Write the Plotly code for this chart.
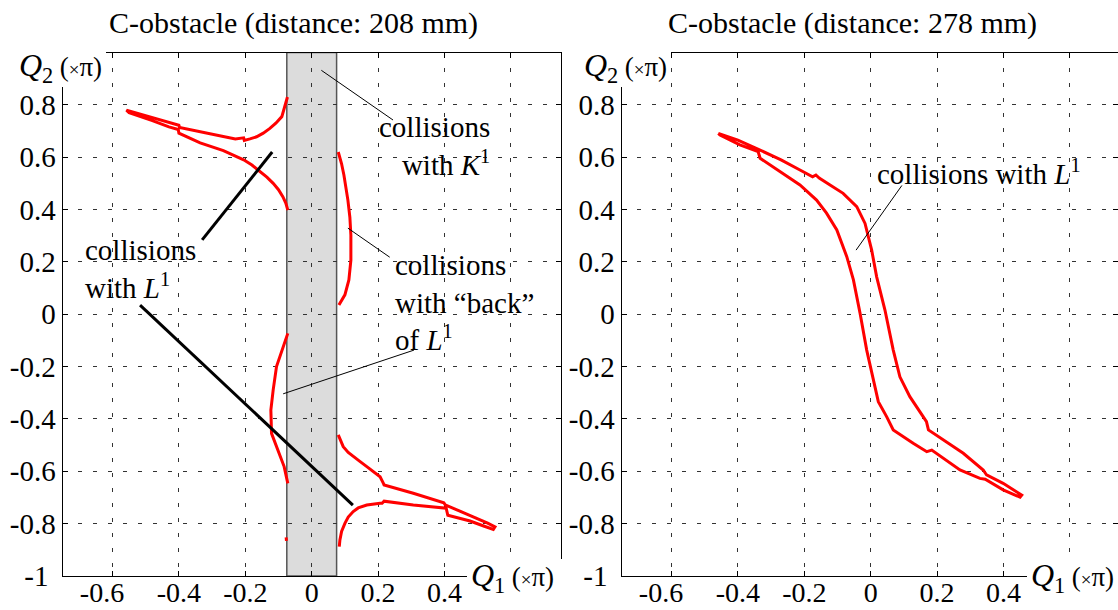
import plotly.graph_objects as go

FONT = "Liberation Serif"

# ---------------- data (units of pi) ----------------
# Left panel (distance 208 mm)
# upper-left branch: from obstacle edge, out to the tip and back
left_upper_x = [-0.073, -0.080, -0.090, -0.108, -0.126, -0.146, -0.166, -0.186, -0.203, -0.205,
                -0.230, -0.270, -0.336, -0.398, -0.400, -0.450, -0.500, -0.540, -0.558,
                -0.550, -0.520, -0.480, -0.430, -0.402, -0.400, -0.336, -0.266, -0.205,
                -0.180, -0.156, -0.135, -0.116, -0.100, -0.087, -0.078, -0.072]
left_upper_y = [0.830, 0.795, 0.755, 0.730, 0.710, 0.692, 0.678, 0.670, 0.664, 0.674,
                0.670, 0.680, 0.698, 0.714, 0.722, 0.740, 0.758, 0.772, 0.780,
                0.770, 0.758, 0.740, 0.716, 0.706, 0.692, 0.655, 0.625, 0.590,
                0.570, 0.545, 0.524, 0.500, 0.476, 0.449, 0.425, 0.398]

# right-of-obstacle upper bulge
left_right_x = [0.080, 0.090, 0.097, 0.104, 0.109, 0.115, 0.118, 0.118, 0.115, 0.112, 0.100, 0.090, 0.082]
left_right_y = [0.620, 0.575, 0.532, 0.480, 0.436, 0.370, 0.302, 0.207, 0.160, 0.131, 0.074, 0.050, 0.035]

# left-of-obstacle lower bulge ("back" of L1)
left_back_x = [-0.072, -0.086, -0.106, -0.116, -0.123, -0.121, -0.101, -0.083, -0.072]
left_back_y = [-0.073, -0.124, -0.200, -0.289, -0.366, -0.455, -0.519, -0.582, -0.646]

# small isolated fragment
left_dot_x = [-0.077, -0.076]
left_dot_y = [-0.852, -0.866]

# lower-right branch
left_lower_x = [0.080, 0.095, 0.110, 0.125, 0.145, 0.166, 0.186, 0.206, 0.216, 0.218,
                0.306, 0.398, 0.402, 0.477, 0.530, 0.552,
                0.547, 0.520, 0.477, 0.410, 0.405, 0.306, 0.218, 0.212, 0.206, 0.166,
                0.140, 0.125, 0.110, 0.100, 0.090, 0.085, 0.083]
left_lower_y = [-0.461, -0.506, -0.528, -0.544, -0.562, -0.582, -0.602, -0.621, -0.646, -0.652,
                -0.684, -0.720, -0.728, -0.768, -0.798, -0.812,
                -0.822, -0.810, -0.790, -0.768, -0.741, -0.729, -0.714, -0.722, -0.722, -0.729,
                -0.740, -0.754, -0.775, -0.799, -0.830, -0.862, -0.888]

# Right panel (distance 278 mm): one closed loop
right_loop_x = [-0.459, -0.400, -0.333, -0.270, -0.213, -0.175, -0.165, -0.155, -0.120, -0.083,
                -0.042, -0.017, 0.003, 0.018, 0.043, 0.068, 0.088, 0.118, 0.158, 0.168, 0.174,
                0.219, 0.279, 0.339, 0.349, 0.399, 0.455,
                0.450, 0.399, 0.345, 0.329, 0.269, 0.184, 0.169, 0.128, 0.068, 0.048, 0.023,
                0.013, -0.002, -0.012, -0.032, -0.052, -0.072, -0.102, -0.133, -0.163, -0.213,
                -0.273, -0.333, -0.339, -0.394, -0.454, -0.459]
right_loop_y = [0.691, 0.665, 0.627, 0.590, 0.551, 0.525, 0.532, 0.520, 0.492, 0.462,
                0.411, 0.347, 0.245, 0.143, 0.016, -0.137, -0.239, -0.315, -0.391, -0.410, -0.442,
                -0.480, -0.531, -0.595, -0.614, -0.646, -0.691,
                -0.699, -0.671, -0.630, -0.627, -0.595, -0.519, -0.525, -0.493, -0.442, -0.391, -0.334,
                -0.277, -0.187, -0.137, 0.004, 0.131, 0.220, 0.322, 0.386, 0.436, 0.494,
                0.545, 0.596, 0.621, 0.647, 0.685, 0.691]

# obstacle band (left panel)
obstacle_q1 = [-0.075, 0.075]

# ticks
x_tick_vals = [-0.6, -0.4, -0.2, 0, 0.2, 0.4, 0.6]
x_tick_text = ["-0.6\u2002\u00a0", "-0.4", "-0.2", "0", "0.2", "0.4", " "]
y_tick_vals = [-1, -0.8, -0.6, -0.4, -0.2, 0, 0.2, 0.4, 0.6, 0.8]
y_tick_text = ["-1\u00a0", "-0.8", "-0.6", "-0.4", "-0.2", "0", "0.2", "0.4", "0.6", "0.8"]

titles = ["C-obstacle (distance: 208 mm)", "C-obstacle (distance: 278 mm)"]

# ---------------- figure ----------------
W, H = 1118, 610
RED = "#ff0000"
LW = 3

fig = go.Figure()
for xs, ys in [(left_upper_x, left_upper_y), (left_right_x, left_right_y),
               (left_back_x, left_back_y), (left_dot_x, left_dot_y),
               (left_lower_x, left_lower_y)]:
    fig.add_trace(go.Scatter(x=xs, y=ys, mode="lines", line=dict(color=RED, width=LW),
                             xaxis="x", yaxis="y", showlegend=False, hoverinfo="skip"))
fig.add_trace(go.Scatter(x=right_loop_x, y=right_loop_y, mode="lines",
                         line=dict(color=RED, width=LW),
                         xaxis="x2", yaxis="y2", showlegend=False, hoverinfo="skip"))

common = dict(showline=True, linecolor="black", linewidth=1.3, mirror="ticks",
              ticks="inside", ticklen=5, tickwidth=1, tickcolor="black",
              showgrid=True, gridcolor="#333333", gridwidth=1, griddash="4px,11px",
              zeroline=False, tickmode="array", fixedrange=True, automargin=False)
xtickfont = dict(family=FONT, size=28, color="black")
ytickfont = dict(family=FONT, size=29, color="black")

ydom = [1 - 576 / H, 1 - 52.5 / H]
fig.update_layout(
    width=W, height=H, autosize=False,
    margin=dict(l=0, r=0, t=0, b=0, pad=0),
    paper_bgcolor="white", plot_bgcolor="white",
    font=dict(family=FONT, size=29, color="black"),
    xaxis=dict(domain=[62.7 / W, 560.7 / W], range=[-0.75, 0.75], ticklabelstandoff=-9,
               tickfont=xtickfont, tickvals=x_tick_vals, ticktext=x_tick_text,
               anchor="y", **common),
    yaxis=dict(domain=ydom, range=[-1, 1], tickvals=y_tick_vals, ticktext=y_tick_text,
               tickfont=ytickfont, anchor="x", **common),
    xaxis2=dict(domain=[621.7 / W, 1.0], range=[-0.75, 0.745], ticklabelstandoff=-9,
                tickfont=xtickfont, tickvals=x_tick_vals, ticktext=x_tick_text,
                anchor="y2", **common),
    yaxis2=dict(domain=ydom, range=[-1, 1], tickvals=y_tick_vals, ticktext=y_tick_text,
                tickfont=ytickfont, anchor="x2", **common),
)

# obstacle band
fig.add_shape(type="rect", xref="x", yref="y", x0=obstacle_q1[0], x1=obstacle_q1[1],
              y0=-1.0, y1=1.0, fillcolor="#dcdcdc",
              line=dict(color="#555555", width=1.5), layer="below")

# leader lines (annotation pointers)
thin = dict(color="black", width=1)
thick = dict(color="black", width=3)
leaders = [
    ("x", "y", 0.029, 0.932, 0.245, 0.742, thin),
    ("x", "y", 0.109, 0.329, 0.235, 0.218, thin),
    ("x", "y", -0.086, -0.304, 0.308, -0.137, thin),
    ("x", "y", -0.330, 0.284, -0.119, 0.620, thick),
    ("x", "y", -0.517, 0.035, 0.124, -0.729, thick),
    ("x2", "y2", -0.044, 0.245, 0.094, 0.492, thin),
]
for xr, yr, x0, y0, x1, y1, ln in leaders:
    fig.add_shape(type="line", xref=xr, yref=yr, x0=x0, y0=y0, x1=x1, y1=y1, line=ln)

# white masks where the axis labels interrupt the frame (pixel boxes)
masks = [(20, 47, 106, 87), (467, 559, 568, 600), (581, 47, 671, 87), (1027, 559, 1118, 600)]
for x0, y0, x1, y1 in masks:
    fig.add_shape(type="rect", xref="paper", yref="paper", x0=x0 / W, x1=x1 / W,
                  y0=1 - y1 / H, y1=1 - y0 / H, fillcolor="white",
                  line=dict(width=0), layer="above")

afont = dict(family=FONT, size=29, color="black")
notes = [
    ("x", "y", 0.543, 0.641, "collisions<br>with <i>K</i><sup>1</sup>", "right"),
    ("x", "y", 0.245, 0.045, "collisions<br>with “back”<br>of <i>L</i><sup>1</sup>", "left"),
    ("x", "y", -0.689, 0.171, "collisions<br>with <i>L</i><sup>1</sup>", "left"),
    ("x2", "y2", 0.013, 0.543, "collisions with <i>L</i><sup>1</sup>", "left"),
]
for xr, yr, x, y, txt, al in notes:
    fig.add_annotation(xref=xr, yref=yr, x=x, y=y, text=txt, showarrow=False,
                       xanchor=al, yanchor="middle", align=al, font=afont)

# axis labels (paper coordinates so they are not hidden outside the axis range)
q2 = "<i>Q</i><sub>2</sub>\u2009<span style='font-size:27px'>(<span style='font-size:19px'>×</span>π)</span>"
q1 = "<i>Q</i><sub>1</sub>\u2009<span style='font-size:27px'>(<span style='font-size:19px'>×</span>π)</span>"
qfont = dict(family=FONT, size=32, color="black")
for xq2_px, xq1_px in [(104, 469), (669, 1029)]:
    fig.add_annotation(xref="paper", yref="paper", x=xq2_px / W, y=1 - 68 / H, text=q2,
                       showarrow=False, xanchor="right", yanchor="middle", font=qfont)
    fig.add_annotation(xref="paper", yref="paper", x=xq1_px / W, y=1 - 577 / H, text=q1,
                       showarrow=False, xanchor="left", yanchor="middle", font=qfont)

# titles
tfont = dict(family=FONT, size=30, color="black")
for xp, t in [(293 / W, titles[0]), (853 / W, titles[1])]:
    fig.add_annotation(xref="paper", yref="paper", x=xp, y=1 - 23 / H, text=t,
                       showarrow=False, xanchor="center", yanchor="middle", font=tfont)

fig.write_html("out.html", config={"displayModeBar": False},
               post_script="document.body.style.margin='0';")
